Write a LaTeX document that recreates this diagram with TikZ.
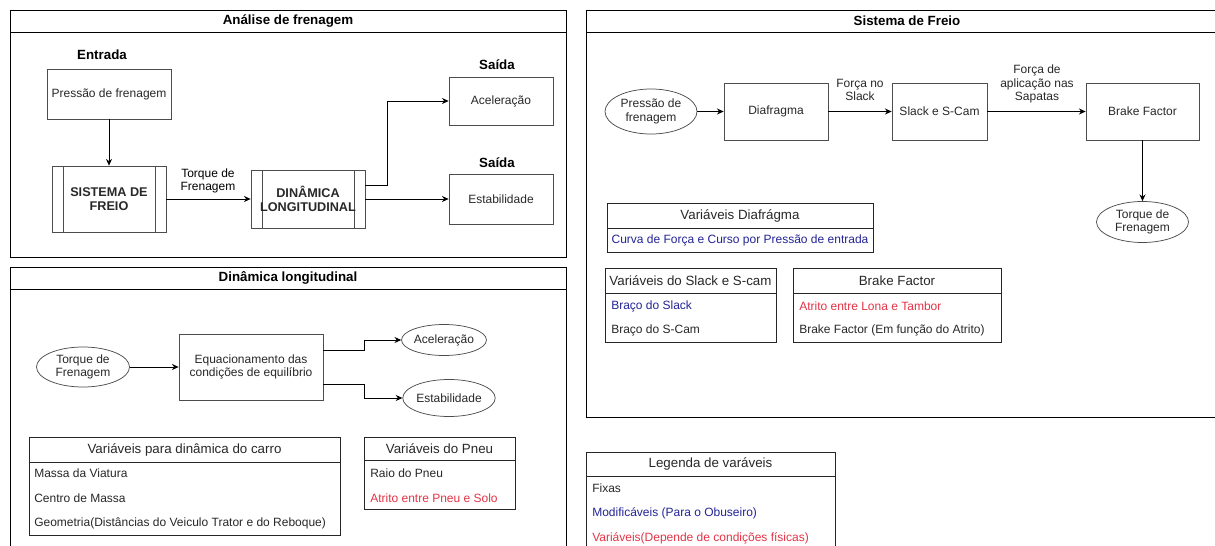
\documentclass[tikz,border=0pt]{standalone}
\usepackage{fontspec}
\setmainfont{Liberation Sans}
\usepackage{tikz}
\usetikzlibrary{arrows.meta,shapes.geometric}
\usepackage{xcolor}
\definecolor{txt}{RGB}{40,40,40}
\definecolor{modif}{RGB}{36,36,150}
\definecolor{varia}{RGB}{228,52,70}

\begin{document}
\begin{tikzpicture}[x=0.75pt,y=-0.75pt,
  frame/.style={draw=black,line width=0.6pt},
  sep/.style={draw=black!85,line width=0.55pt},
  box/.style 2 args={draw=black!70,line width=0.55pt,fill=white,
    minimum width=#1*0.75pt,minimum height=#2*0.75pt,inner sep=1pt,
    align=center,text=txt,font=\fontsize{9}{10}\selectfont},
  proc/.style 2 args={box={#1}{#2},text=txt,font=\fontsize{9.5}{10}\selectfont\bfseries,
    path picture={
      \draw[black!70,line width=0.55pt] ([xshift=8.25pt]path picture bounding box.north west) -- ([xshift=8.25pt]path picture bounding box.south west);
      \draw[black!70,line width=0.55pt] ([xshift=-8.25pt]path picture bounding box.north east) -- ([xshift=-8.25pt]path picture bounding box.south east);}},
  oval/.style 2 args={ellipse,draw=black!70,line width=0.55pt,fill=white,
    minimum width=#1*0.75pt,minimum height=#2*0.75pt,inner sep=0pt,
    align=center,text=txt,font=\fontsize{9}{10}\selectfont},
  ttl/.style={font=\fontsize{10}{12}\selectfont\bfseries},
  hd/.style={text=txt,font=\fontsize{10}{12}\selectfont},
  row/.style={anchor=west,inner sep=0pt,text=txt,font=\fontsize{9}{11}\selectfont},
  lbl/.style={align=center,text=txt,font=\fontsize{9}{10}\selectfont},
  flow/.style={-{Stealth[length=5pt,width=4.5pt]},line width=0.6pt}]

\useasboundingbox (0,0) rectangle (1215,546);
\fill[white] (0,0) rectangle (1215,546);
\clip (0,0) rectangle (1215,546);

% Analise de frenagem
\draw[frame] (10,10) rectangle (566,257);
\draw[frame] (10,32) -- (566,32);
\node[ttl] (t1) at (288,21) {Análise de frenagem};
\node[ttl] (ent) at (102,55) {Entrada};
\node[box={124}{50}] (pf) at (109,94) {Pressão de frenagem};
\node[proc={114}{66}] (sf) at (109,199) {SISTEMA DE\\FREIO};
\node[proc={114}{58}] (dl) at (308,199) {DINÂMICA\\LONGITUDINAL};
\node[lbl,text=black] (tq1) at (208,181) {Torque de\\Frenagem};
\node[ttl] (s1) at (497,65) {Saída};
\node[box={104}{48}] (acel) at (501,101) {Aceleração};
\node[ttl] (s2) at (497,163) {Saída};
\node[box={104}{50}] (estab) at (501,199) {Estabilidade};
\draw[flow] (pf) -- (sf);
\draw[flow] (sf) -- (dl);
\draw[flow] ([yshift=10.5pt]dl.east) -- ++(22,0) |- (acel);
\draw[flow] (dl) -- (estab);

% Dinamica longitudinal
\draw[frame] (10,267) rectangle (566,570);
\draw[frame] (10,289) -- (566,289);
\node[ttl] (t2) at (288,278) {Dinâmica longitudinal};
\node[oval={93}{40}] (tq) at (83,367) {Torque de\\Frenagem};
\node[box={144}{66}] (eq) at (251,367) {Equacionamento das\\condições de equilíbrio};
\node[oval={83}{31}] (ac) at (444,340) {Aceleração};
\node[oval={92}{37}] (es) at (449,398) {Estabilidade};
\draw[flow] (tq) -- (eq);
\draw[flow] ([yshift=12.75pt]eq.east) -- ++(41,0) |- (ac);
\draw[flow] ([yshift=-12.75pt]eq.east) -- ++(41,0) |- (es);
% tabelas
\draw[sep] (29,437) rectangle (340,535);
\draw[sep] (29,462) -- (340,462);
\node[hd] (hcar) at (184.5,449.5) {Variáveis para dinâmica do carro};
\node[row] (car1) at (34,473) {Massa da Viatura};
\node[row] (car2) at (34,498) {Centro de Massa};
\node[row] (car3) at (34,523) {Geometria(Distâncias do Veiculo Trator e do Reboque)};
\draw[sep] (364,437) rectangle (515,509);
\draw[sep] (364,460) -- (515,460);
\node[hd] (hpn) at (439.5,448.5) {Variáveis do Pneu};
\node[row] (pn1) at (370,473) {Raio do Pneu};
\node[row,text=varia] (pn2) at (370,498) {Atrito entre Pneu e Solo};

% Sistema de Freio
\draw[frame] (586,10) rectangle (1240,417);
\draw[frame] (586,32) -- (1240,32);
\node[ttl] (t3) at (907,21) {Sistema de Freio};
\node[oval={92}{45}] (pr) at (651,111.5) {Pressão de\\frenagem};
\node[box={104}{57}] (dia) at (776,111.5) {Diafragma};
\node[box={95}{57}] (sc) at (939.5,111.5) {Slack e S-Cam};
\node[box={113}{57}] (bf) at (1142.5,111.5) {Brake Factor};
\node[oval={92}{41}] (tf) at (1142.5,222) {Torque de\\Frenagem};
\node[lbl] (fs) at (860,90) {Força no\\Slack};
\node[lbl] (fa) at (1037,84) {Força de\\aplicação nas\\Sapatas};
\draw[flow] (pr) -- (dia);
\draw[flow] (dia) -- (sc);
\draw[flow] (sc) -- (bf);
\draw[flow] (bf) -- (tf);
% tabelas
\draw[sep] (607,203) rectangle (873,252);
\draw[sep] (607,228) -- (873,228);
\node[hd] (hdia) at (740,215.5) {Variáveis Diafrágma};
\node[lbl,text=modif] (dia1) at (740,240.5) {Curva de Força e Curso por Pressão de entrada};
\draw[sep] (605,268) rectangle (776,342);
\draw[sep] (605,293) -- (776,293);
\node[hd] (hsc) at (690.5,280.5) {Variáveis do Slack e S-cam};
\node[row,text=modif] (sc1) at (611,306) {Braço do Slack};
\node[row] (sc2) at (611,330) {Braço do S-Cam};
\draw[sep] (793,268) rectangle (1001,342);
\draw[sep] (793,293) -- (1001,293);
\node[hd] (hbf) at (897,280.5) {Brake Factor};
\node[row,text=varia] (bf1) at (799,306) {Atrito entre Lona e Tambor};
\node[row] (bf2) at (799,330) {Brake Factor (Em função do Atrito)};

% Legenda
\draw[sep] (586,452) rectangle (835,570);
\draw[sep] (586,476) -- (835,476);
\node[hd] (hleg) at (710.5,464) {Legenda de varáveis};
\node[row] (leg1) at (592,488) {Fixas};
\node[row,text=modif] (leg2) at (592,513) {Modificáveis (Para o Obuseiro)};
\node[row,text=varia] (leg3) at (592,538) {Variáveis(Depende de condições físicas)};

\end{tikzpicture}
\end{document}
